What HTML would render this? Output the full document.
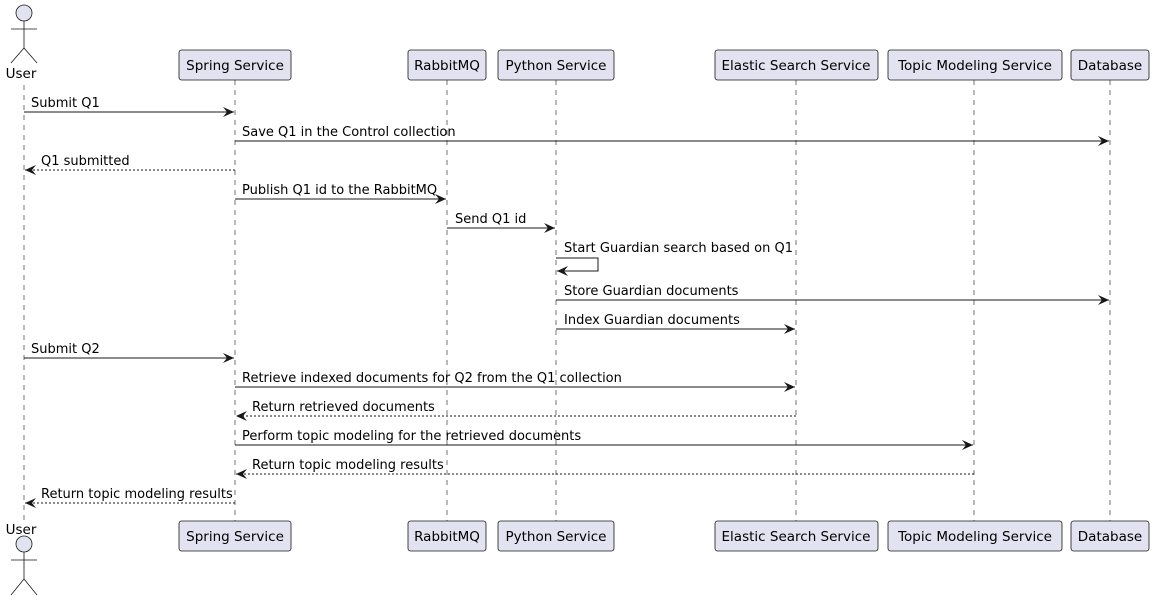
<!DOCTYPE html>
<html><head><style>body{margin:0;background:#fff}svg{display:block}text{font-family:"DejaVu Sans","Liberation Sans",sans-serif;fill:#000}</style></head><body>
<svg width="1156" height="601" xmlns="http://www.w3.org/2000/svg">
<defs>
<marker id="a" markerWidth="12" markerHeight="10" refX="11" refY="5" orient="auto" markerUnits="userSpaceOnUse"><path d="M0,0 L11,5 L0,10 L4,5 Z" fill="#181818"/></marker>
</defs>
<g stroke="#181818" stroke-width="0.6" stroke-dasharray="5,5">
<line x1="24" y1="85" x2="24" y2="521"/>
<line x1="235" y1="80" x2="235" y2="521"/>
<line x1="447" y1="80" x2="447" y2="521"/>
<line x1="556" y1="80" x2="556" y2="521"/>
<line x1="796" y1="80" x2="796" y2="521"/>
<line x1="974" y1="80" x2="974" y2="521"/>
<line x1="1110" y1="80" x2="1110" y2="521"/>
</g>
<g fill="#E2E2F0" stroke="#181818" stroke-width="0.8">
<rect x="179" y="50" width="112" height="30" rx="2.5"/>
<rect x="408" y="50" width="78" height="30" rx="2.5"/>
<rect x="498" y="50" width="116" height="30" rx="2.5"/>
<rect x="715" y="50" width="163" height="30" rx="2.5"/>
<rect x="888" y="50" width="174" height="30" rx="2.5"/>
<rect x="1071" y="50" width="78" height="30" rx="2.5"/>
<rect x="179" y="521" width="112" height="30" rx="2.5"/>
<rect x="408" y="521" width="78" height="30" rx="2.5"/>
<rect x="498" y="521" width="116" height="30" rx="2.5"/>
<rect x="715" y="521" width="163" height="30" rx="2.5"/>
<rect x="888" y="521" width="174" height="30" rx="2.5"/>
<rect x="1071" y="521" width="78" height="30" rx="2.5"/>
<circle cx="24" cy="13" r="8"/>
<circle cx="24" cy="544" r="8"/>
</g>
<g stroke="#181818" fill="none" stroke-width="0.8">
<path d="M24,21 V48 M11,29 H37 M11,63 L24,48 L37,63"/>
<path d="M24,552 V579 M11,560 H37 M11,595 L24,579 L37,595"/>
</g>
<g font-size="13.5" text-anchor="middle">
<text x="235" y="70">Spring Service</text><text x="447" y="70">RabbitMQ</text><text x="556" y="70">Python Service</text><text x="796" y="70">Elastic Search Service</text><text x="975" y="70">Topic Modeling Service</text><text x="1110" y="70">Database</text>
<text x="235" y="541">Spring Service</text><text x="447" y="541">RabbitMQ</text><text x="556" y="541">Python Service</text><text x="796" y="541">Elastic Search Service</text><text x="975" y="541">Topic Modeling Service</text><text x="1110" y="541">Database</text>
<text x="21" y="78">User</text><text x="21" y="534">User</text>
</g>
<g stroke="#181818" stroke-width="1" fill="none" marker-end="url(#a)">
<line x1="24" y1="112" x2="234" y2="112"/>
<line x1="235" y1="141" x2="1109" y2="141"/>
<line x1="235" y1="170" x2="25" y2="170" stroke-dasharray="2,2"/>
<line x1="235" y1="199" x2="446" y2="199"/>
<line x1="447" y1="228" x2="555" y2="228"/>
<path d="M556,258 H598 V271 H557"/>
<line x1="556" y1="300" x2="1109" y2="300"/>
<line x1="556" y1="329" x2="795" y2="329"/>
<line x1="24" y1="358" x2="234" y2="358"/>
<line x1="235" y1="387" x2="795" y2="387"/>
<line x1="796" y1="416" x2="236" y2="416" stroke-dasharray="2,2"/>
<line x1="235" y1="445" x2="973" y2="445"/>
<line x1="974" y1="474" x2="236" y2="474" stroke-dasharray="2,2"/>
<line x1="235" y1="503" x2="25" y2="503" stroke-dasharray="2,2"/>
</g>
<g font-size="13">
<text x="31" y="107">Submit Q1</text>
<text x="242" y="136">Save Q1 in the Control collection</text>
<text x="41" y="165">Q1 submitted</text>
<text x="242" y="194">Publish Q1 id to the RabbitMQ</text>
<text x="455" y="223">Send Q1 id</text>
<text x="564" y="252">Start Guardian search based on Q1</text>
<text x="564" y="295">Store Guardian documents</text>
<text x="564" y="324">Index Guardian documents</text>
<text x="31" y="353">Submit Q2</text>
<text x="242" y="382">Retrieve indexed documents for Q2 from the Q1 collection</text>
<text x="252" y="411">Return retrieved documents</text>
<text x="242" y="440">Perform topic modeling for the retrieved documents</text>
<text x="252" y="469">Return topic modeling results</text>
<text x="41" y="498">Return topic modeling results</text>
</g>
</svg>
</body></html>
